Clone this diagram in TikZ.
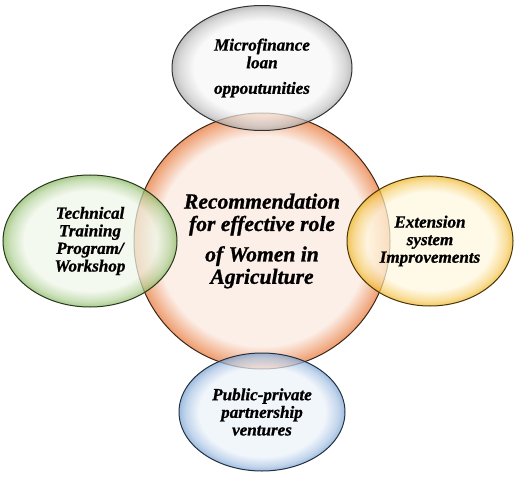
\documentclass[tikz,border=0pt]{standalone}
\usepackage{fontspec}
\setmainfont{Liberation Serif}[BoldItalicFeatures={FakeBold=1}]
\usepackage{tikz}
\usepackage{xcolor}
\usetikzlibrary{positioning,shapes.geometric}
\definecolor{peachlow}{HTML}{FCEFE8}
\definecolor{peachedge}{HTML}{EE9B6C}
\definecolor{greylow}{HTML}{F6F6F6}
\definecolor{greyedge}{HTML}{A6A6A6}
\definecolor{greenlow}{HTML}{EFF6E8}
\definecolor{greenedge}{HTML}{88B862}
\definecolor{goldlow}{HTML}{FFF7DE}
\definecolor{goldedge}{HTML}{F0B420}
\definecolor{bluelow}{HTML}{ECF2FA}
\definecolor{blueedge}{HTML}{78A2D4}
\newcommand{\glassshading}[4]{%
	\pgfdeclareradialshading{#1}{\pgfpoint{0bp}{0bp}}{%
		color(0bp)=(#2); color(#4bp)=(#2); color(23bp)=(#3!55!#2); color(25bp)=(#3); color(50bp)=(#3)}}
\glassshading{peachglass}{peachlow}{peachedge}{20.5}
\glassshading{greyglass}{greylow}{greyedge}{19}
\glassshading{greenglass}{greenlow}{greenedge}{19}
\glassshading{goldglass}{goldlow}{goldedge}{19}
\glassshading{blueglass}{bluelow}{blueedge}{19}
\tikzset{%
	hub/.style    = {draw=black!75!peachedge, line width=0.75pt, circle, shading=peachglass, minimum size=192pt, inner sep=0pt, align=center, font=\fontsize{16.2}{16.8}\selectfont\bfseries\itshape}, % Centre
	bubble/.style = {ellipse, line width=0.75pt, fill opacity=0.72, text opacity=1, inner sep=0pt, align=center, font=\fontsize{12.8}{13.2}\selectfont\bfseries\itshape}, % Around
}
\begin{document}
\begin{tikzpicture}[node distance=130pt]
	\useasboundingbox (0,0) rectangle (390pt,-357.75pt);
	\node [hub] (rec) at (196.5pt,-180.75pt) {Recommendation\\for effective role\\[6pt]of Women in\\Agriculture};
	\node [bubble, draw=black!80, shading=greyglass, minimum width=135pt, minimum height=93.75pt] (loan) [above of=rec, node distance=129.75pt] {Microfinance\\loan\\[6pt]oppoutunities};
	\node [bubble, draw=black!70!greenedge, shading=greenglass, minimum width=130.5pt, minimum height=99pt] (training) [left of=rec, node distance=129pt] {Technical\\Training\\Program/\\Workshop};
	\node [bubble, draw=black!70!goldedge, shading=goldglass, minimum width=124.5pt, minimum height=97.5pt] (extension) [right of=rec, node distance=126pt] {Extension\\system\\Improvements};
	\node [bubble, draw=black!70!blueedge, shading=blueglass, minimum width=124.5pt, minimum height=88.5pt] (ppp) [below of=rec, node distance=128.25pt] {Public-private\\partnership\\ventures};
\end{tikzpicture}
\end{document}
